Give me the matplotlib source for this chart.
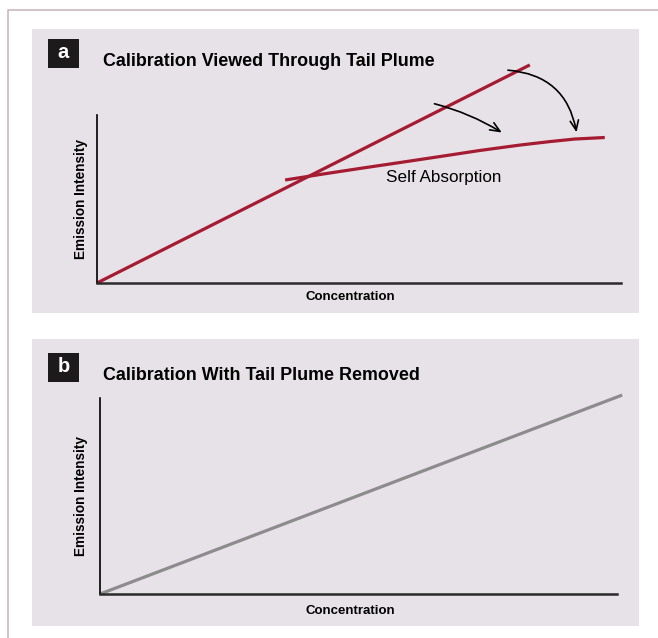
import matplotlib.pyplot as plt
from matplotlib.patches import Rectangle

# panel a: straight calibration and self-absorbed curve
conc_line_a = [0.0, 8.26]
inten_line_a = [0.0, 12.98]
conc_curve_a = [3.59, 4.26, 5.02, 5.78, 6.55, 7.31, 8.07, 8.65, 9.12, 9.69]
inten_curve_a = [6.13, 6.46, 6.82, 7.17, 7.53, 7.89, 8.21, 8.42, 8.57, 8.66]

# panel b: calibration without plume
conc_line_b = [0.0, 10.1]
inten_line_b = [0.0, 10.15]

titles = ['Calibration Viewed Through Tail Plume', 'Calibration With Tail Plume Removed']
panel_tags = ['a', 'b']

red = '#a51b32'
grey_line = '#8c8c8c'
panel_bg = '#e7e2e7'
font = ['Liberation Sans', 'DejaVu Sans']

W, H = 658, 638
fig = plt.figure(figsize=(W / 100, H / 100), dpi=100)

# background layer in pixel coordinates
bg = fig.add_axes([0, 0, 1, 1])
bg.set_xlim(0, W)
bg.set_ylim(H, 0)
bg.axis('off')
bg.plot([8, 8, W], [H, 10, 10], color='#c9b9bd', lw=1.2)
for top, bottom in [(29, 313), (339, 626)]:
    bg.add_patch(Rectangle((32, top), 607, bottom - top, color=panel_bg, lw=0))

for tag, title, top in zip(panel_tags, titles, [39, 353]):
    bg.add_patch(Rectangle((48, top), 31, 29, color='#1c1a1b', lw=0))
    bg.text(63.5, top + 13, tag, color='white', fontsize=14.5, fontweight='bold',
            ha='center', va='center', family=font)
    bg.text(103, top + 22.5, title, fontsize=12.85, fontweight='bold',
            ha='left', va='center', family=font)


def setup(ax, label_top):
    ax.set_facecolor('none')
    ax.set_xlim(0, 10)
    ax.set_ylim(0, 10)
    for s in ['top', 'right']:
        ax.spines[s].set_visible(False)
    ax.spines['left'].set_linewidth(1.2)
    ax.spines['bottom'].set_linewidth(1.8)
    ax.spines['bottom'].set_color('#2a2a2a')
    ax.set_xticks([])
    ax.set_yticks([])
    ax.set_xlabel('Concentration', fontsize=9.5, fontweight='bold', family=font)
    ax.set_ylabel('Emission Intensity', fontsize=9.8, fontweight='bold', family=font)
    # label positions in pixel terms, converted to axes fraction
    bb = ax.get_position()
    ax.xaxis.set_label_coords((350 / W - bb.x0) / bb.width,
                              ((1 - label_top / H) - bb.y0) / bb.height)
    ax.yaxis.set_label_coords((88 / W - bb.x0) / bb.width, 0.5)


ax_a = fig.add_axes([97 / W, 1 - 283 / H, 524 / W, 168 / H])
setup(ax_a, 291)
ax_a.plot(conc_line_a, inten_line_a, color=red, lw=2.3, clip_on=False, solid_capstyle='butt')
ax_a.plot(conc_curve_a, inten_curve_a, color=red, lw=2.3, clip_on=False, solid_capstyle='butt')
ax_a.text(6.62, 6.3, 'Self Absorption', fontsize=12.3, family=font, ha='center', va='center')

arrow_kw = dict(arrowstyle='->,head_length=0.7,head_width=0.3', color='black', lw=1.2)
ax_a.annotate('', xy=(7.77, 8.87), xytext=(6.39, 10.71),
              arrowprops=dict(connectionstyle='arc3,rad=-0.08', **arrow_kw),
              annotation_clip=False)
ax_a.annotate('', xy=(9.16, 8.81), xytext=(7.79, 12.68),
              arrowprops=dict(connectionstyle='arc3,rad=-0.4', **arrow_kw),
              annotation_clip=False)

ax_b = fig.add_axes([100 / W, 1 - 594 / H, 517 / W, 196 / H])
setup(ax_b, 605)
ax_b.plot(conc_line_b, inten_line_b, color=grey_line, lw=2.3, clip_on=False, solid_capstyle='butt')

fig.savefig('out.png', dpi=100)
